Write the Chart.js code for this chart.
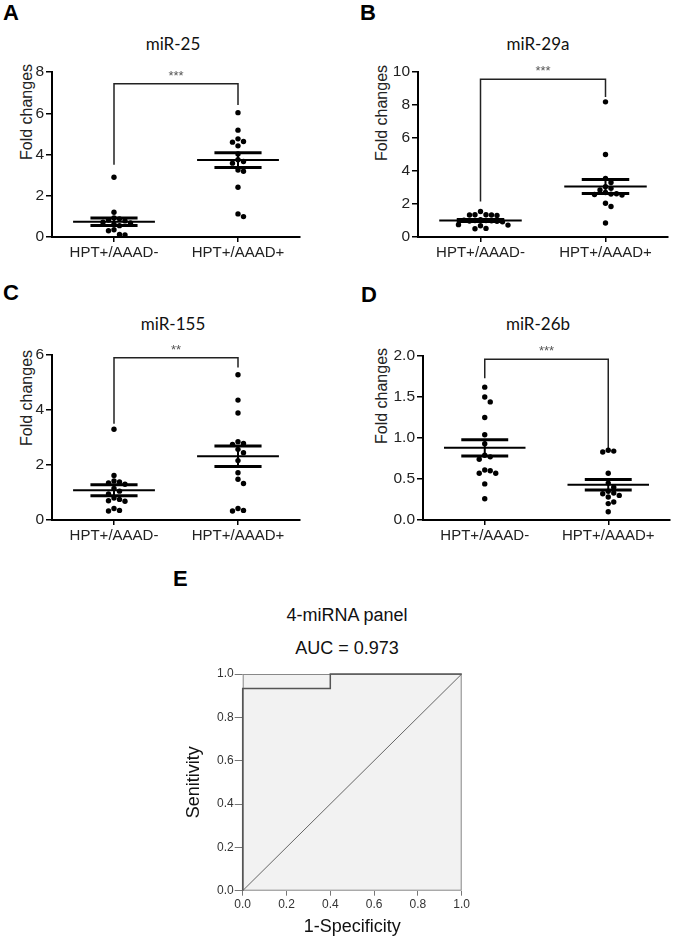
<!DOCTYPE html>
<html>
<head>
<meta charset="utf-8">
<script src="https://cdn.jsdelivr.net/npm/chart.js@4.4.1/dist/chart.umd.min.js"></script>
<style>
  body { margin: 0; background: #fff; width: 675px; height: 941px; position: relative; overflow: hidden; font-family: "Liberation Sans", Arial, sans-serif; }
  canvas { position: absolute; }
  .letter { position: absolute; font-weight: bold; font-size: 22px; line-height: 1; color: #000; }
  .title { position: absolute; transform: translate(-50%, -50%); white-space: nowrap; color: #111; line-height: 1; }
  .mir { font-family: Lato, "Open Sans", sans-serif; font-size: 17px; }
  .roc { font-size: 18px; }
  .ytitle { position: absolute; transform: translate(-50%, -50%) rotate(-90deg); white-space: nowrap; color: #222; font-size: 16px; line-height: 1; }
</style>
</head>
<body>
<div class="letter" style="left:3px;top:2px">A</div>
<div class="letter" style="left:360px;top:2px">B</div>
<div class="letter" style="left:3px;top:282px">C</div>
<div class="letter" style="left:361px;top:284px">D</div>
<div class="letter" style="left:173px;top:568px">E</div>

<div class="title mir" style="left:173px;top:43px">miR-25</div>
<div class="title mir" style="left:538px;top:43px">miR-29a</div>
<div class="title mir" style="left:173px;top:323px">miR-155</div>
<div class="title mir" style="left:538px;top:323px">miR-26b</div>
<div class="title roc" style="left:347px;top:615px">4-miRNA panel</div>
<div class="title roc" style="left:347px;top:648px">AUC = 0.973</div>

<!-- titres d'axe y, placés plus haut que le centre de l'axe comme dans l'original -->
<div class="ytitle" style="left:27px;top:112px">Fold changes</div>
<div class="ytitle" style="left:382px;top:113px">Fold changes</div>
<div class="ytitle" style="left:27px;top:398px">Fold changes</div>
<div class="ytitle" style="left:382px;top:396px">Fold changes</div>

<canvas id="chartA"></canvas>
<canvas id="chartB"></canvas>
<canvas id="chartC"></canvas>
<canvas id="chartD"></canvas>
<canvas id="chartE"></canvas>

<script>
// Catégories communes aux 4 graphiques
const groups = ['HPT+/AAAD-', 'HPT+/AAAD+'];

// A - miR-25
const mir25Neg = [2.9, 1.2, 0.92, 0.88, 0.82, 0.78, 0.72, 0.68, 0.62, 0.55, 0.35, 0.3, 0.12, 0.1];
const mir25Pos = [6.03, 5.18, 4.76, 4.63, 4.6, 4.42, 4.03, 3.75, 3.66, 3.58, 3.25, 3.19, 2.41, 1.12, 0.99];
const mir25Mean = [0.74, 3.73];
const mir25Sem = [0.18, 0.36];
const mir25Ticks = [0, 2, 4, 6, 8];
const mir25Bracket = [3.5, 7.43, 6.4]; // jambe gauche, haut, jambe droite

// B - miR-29a
const mir29aNeg = [1.55, 1.35, 1.35, 1.33, 1.33, 1.3, 1.05, 1.02, 1.0, 1.0, 0.98, 0.97, 0.95, 0.92, 0.75, 0.72, 0.68, 0.52, 0.5];
const mir29aPos = [8.19, 5.0, 3.55, 3.3, 3.05, 2.95, 2.85, 2.7, 2.62, 2.6, 2.58, 2.55, 2.05, 1.85, 0.85];
const mir29aMean = [1.0, 3.06];
const mir29aSem = [0.06, 0.42];
const mir29aTicks = [0, 2, 4, 6, 8, 10];
const mir29aBracket = [2.15, 9.56, 8.49];

// C - miR-155
const mir155Neg = [3.3, 1.62, 1.42, 1.38, 1.35, 1.3, 1.15, 1.05, 0.95, 0.8, 0.75, 0.7, 0.68, 0.42, 0.35, 0.33];
const mir155Pos = [5.28, 4.36, 3.89, 2.85, 2.78, 2.75, 2.57, 2.45, 2.16, 1.72, 1.48, 1.33, 0.42, 0.35, 0.33];
const mir155Mean = [1.08, 2.32];
const mir155Sem = [0.2, 0.37];
const mir155Ticks = [0, 2, 4, 6];
const mir155Bracket = [3.5, 5.9, 5.55];

// D - miR-26b
const mir26bNeg = [1.62, 1.5, 1.44, 1.25, 1.04, 0.93, 0.79, 0.77, 0.74, 0.61, 0.6, 0.57, 0.57, 0.44, 0.26];
const mir26bPos = [0.85, 0.84, 0.83, 0.57, 0.45, 0.4, 0.35, 0.33, 0.32, 0.3, 0.28, 0.22, 0.2, 0.1];
const mir26bMean = [0.88, 0.43];
const mir26bSem = [0.1, 0.065];
const mir26bTicks = [0, 0.5, 1.0, 1.5, 2.0];
const mir26bBracket = [1.73, 1.96, 0.86];

// E - courbe ROC
const rocFpr = [0, 0, 0.4, 0.4, 1];
const rocTpr = [0, 0.933, 0.933, 1, 1];
const rocTicks = [0, 0.2, 0.4, 0.6, 0.8, 1.0];

const arial = '"Liberation Sans", Arial, sans-serif';

// Place les points en "beeswarm" pour éviter qu'ils se chevauchent
function swarm(values, center, pxX, pxY) {
    const d = 5.5;
    const placed = [];
    const order = values.map((v, i) => i).sort((a, b) => values[b] - values[a]);
    for (const i of order) {
        const py = values[i] * pxY;
        let off = 0;
        for (let n = 0; n < 40; n++) {
            off = Math.ceil(n / 2) * (n % 2 ? 1 : -1) * d;
            if (placed.every(p => Math.hypot(p.ox - off, p.py - py) >= d)) break;
        }
        placed.push({ ox: off, py: py, v: values[i] });
    }
    return placed.map(p => ({ x: center + p.ox / pxX, y: p.v }));
}

function line(points, width, color) {
    return {
        type: 'scatter', data: points, showLine: true, borderColor: color || '#000',
        borderWidth: width, pointRadius: 0, clip: false, fill: false
    };
}

// Plugin qui écrit les étoiles au-dessus du crochet
const starsPlugin = {
    id: 'stars',
    afterDatasetsDraw(chart, args, opts) {
        const ctx = chart.ctx;
        ctx.save();
        ctx.fillStyle = '#555';
        ctx.font = '13px ' + arial;
        ctx.textAlign = 'center';
        ctx.textBaseline = 'bottom';
        ctx.fillText(opts.text, chart.scales.x.getPixelForValue(2), chart.scales.y.getPixelForValue(opts.y) - 1);
        ctx.restore();
    }
};

function scatterPanel(id, p) {
    const el = document.getElementById(id);
    el.width = p.canvasRight - p.canvasLeft;
    el.height = p.canvasHeight;
    el.style.left = p.canvasLeft + 'px';
    el.style.top = p.canvasTop + 'px';

    const ymax = p.ticks[p.ticks.length - 1];
    const pxX = (p.right - p.axisX) / 4;
    const pxY = (p.bottom - p.top) / ymax;

    const datasets = [];
    [p.neg, p.pos].forEach((vals, g) => {
        const cx = 1 + 2 * g;
        const m = p.mean[g], s = p.sem[g];
        datasets.push(line([{ x: cx - 0.66, y: m }, { x: cx + 0.66, y: m }], 2));
        datasets.push(line([{ x: cx - 0.38, y: m + s }, { x: cx + 0.38, y: m + s }], 3));
        datasets.push(line([{ x: cx - 0.38, y: m - s }, { x: cx + 0.38, y: m - s }], 3));
        datasets.push(line([{ x: cx, y: m - s }, { x: cx, y: m + s }], 2));
        datasets.push({
            type: 'scatter', data: swarm(vals, cx, pxX, pxY), pointRadius: 2.7,
            backgroundColor: '#000', borderWidth: 0, clip: false
        });
    });
    const b = p.bracket;
    datasets.push(line([{ x: 1, y: b[0] }, { x: 1, y: b[1] }, { x: 3, y: b[1] }, { x: 3, y: b[2] }], 1.5, '#222'));

    return new Chart(el, {
        type: 'scatter',
        data: { datasets: datasets },
        plugins: [starsPlugin],
        options: {
            responsive: false,
            animation: false,
            devicePixelRatio: 1,
            layout: { padding: { left: 0, top: p.top - p.canvasTop, right: p.canvasRight - p.right, bottom: 0 } },
            plugins: {
                legend: { display: false },
                tooltip: { enabled: false },
                stars: { text: p.stars, y: b[1] }
            },
            scales: {
                x: {
                    type: 'linear', min: 0, max: 4,
                    afterBuildTicks: s => { s.ticks = [{ value: 1 }, { value: 3 }]; },
                    ticks: { callback: (v, i) => groups[i], font: { size: 15, family: arial }, color: '#222', maxRotation: 0, autoSkip: false, padding: 2 },
                    grid: { drawOnChartArea: false, tickLength: 5, color: '#000', lineWidth: 1.5 },
                    border: { color: '#000', width: 2 },
                    afterFit: s => { s.height = 30; }
                },
                y: {
                    min: 0, max: ymax,
                    afterBuildTicks: s => { s.ticks = p.ticks.map(v => ({ value: v })); },
                    ticks: { callback: v => v.toFixed(p.dec), font: { size: 15.5, family: arial }, color: '#222', padding: 2 },
                    grid: { drawOnChartArea: false, tickLength: 6, color: '#000', lineWidth: 1.5 },
                    border: { color: '#000', width: 2 },
                    afterFit: s => { s.width = p.axisX - p.canvasLeft; }
                }
            }
        }
    });
}

scatterPanel('chartA', {
    neg: mir25Neg, pos: mir25Pos, mean: mir25Mean, sem: mir25Sem, ticks: mir25Ticks, dec: 0,
    bracket: mir25Bracket, stars: '***',
    canvasLeft: 14, canvasRight: 310, canvasTop: 55, canvasHeight: 212,
    axisX: 52, right: 300, top: 72, bottom: 237
});
scatterPanel('chartB', {
    neg: mir29aNeg, pos: mir29aPos, mean: mir29aMean, sem: mir29aSem, ticks: mir29aTicks, dec: 0,
    bracket: mir29aBracket, stars: '***',
    canvasLeft: 368, canvasRight: 675, canvasTop: 55, canvasHeight: 212,
    axisX: 418, right: 668, top: 72, bottom: 237
});
scatterPanel('chartC', {
    neg: mir155Neg, pos: mir155Pos, mean: mir155Mean, sem: mir155Sem, ticks: mir155Ticks, dec: 0,
    bracket: mir155Bracket, stars: '**',
    canvasLeft: 14, canvasRight: 310, canvasTop: 338, canvasHeight: 212,
    axisX: 52, right: 300, top: 355, bottom: 520
});
scatterPanel('chartD', {
    neg: mir26bNeg, pos: mir26bPos, mean: mir26bMean, sem: mir26bSem, ticks: mir26bTicks, dec: 1,
    bracket: mir26bBracket, stars: '***',
    canvasLeft: 368, canvasRight: 675, canvasTop: 338, canvasHeight: 212,
    axisX: 423, right: 670, top: 356, bottom: 520
});

// Fond gris et cadre de la zone ROC
const boxPlugin = {
    id: 'box',
    beforeDatasetsDraw(chart) {
        const a = chart.chartArea, ctx = chart.ctx;
        ctx.save();
        ctx.fillStyle = '#f2f2f2';
        ctx.fillRect(a.left, a.top, a.right - a.left, a.bottom - a.top);
        ctx.strokeStyle = '#888';
        ctx.lineWidth = 1;
        ctx.strokeRect(a.left + 0.5, a.top + 0.5, a.right - a.left - 1, a.bottom - a.top - 1);
        ctx.restore();
    }
};

(function rocPanel() {
    const el = document.getElementById('chartE');
    const L = 170, T = 660;
    el.width = 310;
    el.height = 281;
    el.style.left = L + 'px';
    el.style.top = T + 'px';
    const tickFont = { size: 12, family: arial };
    new Chart(el, {
        type: 'scatter',
        data: {
            datasets: [
                line(rocFpr.map((x, i) => ({ x: x, y: rocTpr[i] })), 1.5, '#555'),
                line([{ x: 0, y: 0 }, { x: 1, y: 1 }], 1, '#666')
            ]
        },
        plugins: [boxPlugin],
        options: {
            responsive: false,
            animation: false,
            devicePixelRatio: 1,
            layout: { padding: { left: 0, top: 674 - T, right: L + 310 - 461.7, bottom: 0 } },
            plugins: { legend: { display: false }, tooltip: { enabled: false } },
            scales: {
                x: {
                    type: 'linear', min: 0, max: 1,
                    afterBuildTicks: s => { s.ticks = rocTicks.map(v => ({ value: v })); },
                    ticks: { callback: v => v.toFixed(1), font: tickFont, color: '#333', padding: 2, maxRotation: 0 },
                    grid: { drawOnChartArea: false, tickLength: 5, color: '#777' },
                    border: { display: false },
                    title: { display: true, text: '1-Specificity', font: { size: 18, family: arial }, color: '#111', padding: { top: 0, bottom: 3 } },
                    afterFit: s => { s.height = T + 281 - 890.7; }
                },
                y: {
                    min: 0, max: 1,
                    afterBuildTicks: s => { s.ticks = rocTicks.map(v => ({ value: v })); },
                    ticks: { callback: v => v.toFixed(1), font: tickFont, color: '#333', padding: 1 },
                    grid: { drawOnChartArea: false, tickLength: 8, color: '#777' },
                    border: { display: false },
                    title: { display: true, text: 'Senitivity', font: { size: 18, family: arial }, color: '#111', padding: { top: 13, bottom: 0 } },
                    afterFit: s => { s.width = 242.7 - L; }
                }
            }
        }
    });
})();
</script>
</body>
</html>
